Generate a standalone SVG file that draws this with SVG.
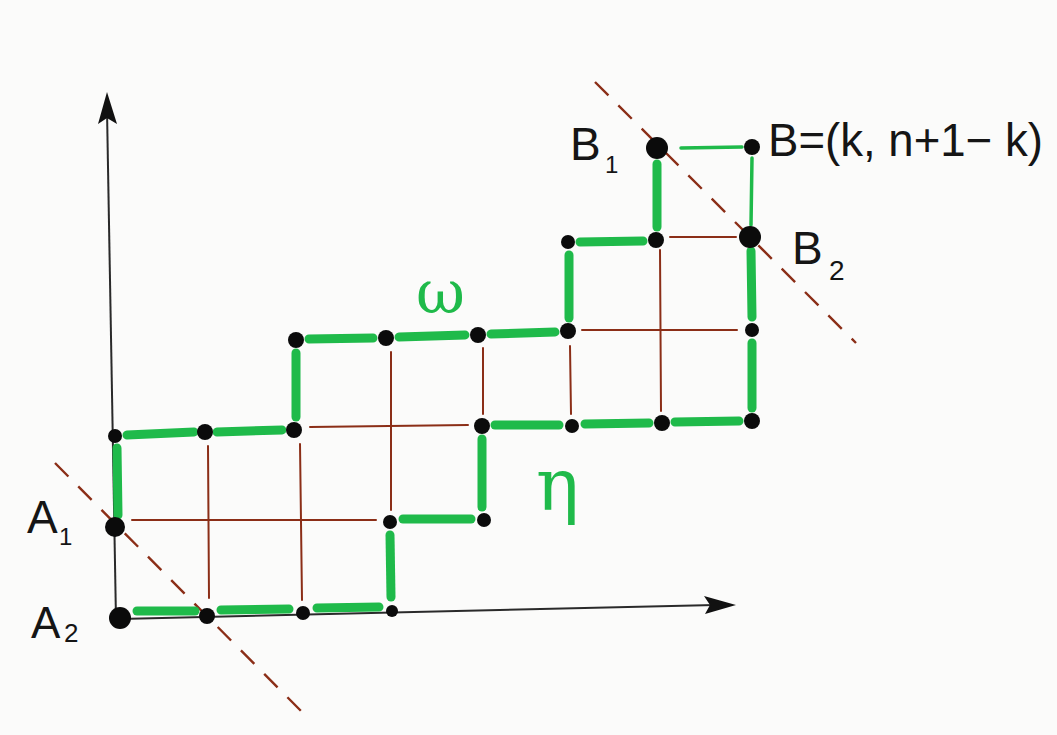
<svg xmlns="http://www.w3.org/2000/svg" width="1057" height="735" viewBox="0 0 1057 735">
<style>
.axis{stroke:#2a2a2a;stroke-width:2;fill:none}
.grid{stroke:#8b2e17;stroke-width:2;fill:none;stroke-linecap:round}
.diag{stroke:#8b2e17;stroke-width:2.4;fill:none;stroke-dasharray:19 14}
.path{stroke:#1fba4a;stroke-width:9;fill:none;stroke-linecap:round}
.thin{stroke:#1fba4a;stroke-width:3.5;fill:none;stroke-linecap:round}
.dot{fill:#0b0b0b}
.lbl{font-family:"Liberation Sans",Arial,sans-serif;fill:#151515}
.glbl{font-family:"DejaVu Serif","Liberation Serif",serif;fill:#1fba4a}
</style>
<rect width="1057" height="735" fill="#fbfbfa"/>
<g id="axes">
<line class="axis" x1="107" y1="110" x2="116" y2="620"/>
<polygon points="107,92 98,124 107,118 117,124" fill="#111"/>
<line class="axis" x1="120" y1="619" x2="715" y2="605"/>
<polygon points="736,605 704,596 710,605 705,614" fill="#111"/>
</g>
<g id="connectors">
<g id="grid-lines">
<line class="grid" x1="208" y1="446" x2="209" y2="598"/>
<line class="grid" x1="300" y1="444" x2="302" y2="600"/>
<line class="grid" x1="132" y1="520" x2="376" y2="520"/>
<line class="grid" x1="310" y1="427" x2="468" y2="425"/>
<line class="grid" x1="391" y1="352" x2="391" y2="510"/>
<line class="grid" x1="483" y1="348" x2="483" y2="414"/>
<line class="grid" x1="570" y1="346" x2="571" y2="414"/>
<line class="grid" x1="660" y1="250" x2="661" y2="411"/>
<line class="grid" x1="582" y1="330" x2="737" y2="330"/>
<line class="grid" x1="670" y1="237" x2="736" y2="237"/>
</g>
<g id="diagonals">
<line class="diag" x1="55" y1="463" x2="305" y2="715"/>
<line class="diag" x1="595" y1="82" x2="856" y2="343"/>
</g>
<g id="path-omega">
<line class="path" x1="118" y1="515" x2="117" y2="448"/>
<line class="path" x1="127" y1="435" x2="194" y2="432"/>
<line class="path" x1="217" y1="432" x2="282" y2="430"/>
<line class="path" x1="296" y1="417" x2="296" y2="353"/>
<line class="path" x1="309" y1="339" x2="373" y2="338"/>
<line class="path" x1="399" y1="337" x2="465" y2="335"/>
<line class="path" x1="491" y1="334" x2="555" y2="332"/>
<line class="path" x1="569" y1="318" x2="569" y2="255"/>
<line class="path" x1="580" y1="242" x2="643" y2="241"/>
<line class="path" x1="657" y1="227" x2="657" y2="164"/>
</g>
<g id="path-eta">
<line class="path" x1="137" y1="611" x2="195" y2="611"/>
<line class="path" x1="221" y1="610" x2="289" y2="609"/>
<line class="path" x1="317" y1="608" x2="379" y2="607"/>
<line class="path" x1="391" y1="597" x2="390" y2="535"/>
<line class="path" x1="403" y1="519" x2="471" y2="519"/>
<line class="path" x1="482" y1="507" x2="482" y2="439"/>
<line class="path" x1="495" y1="425" x2="559" y2="425"/>
<line class="path" x1="585" y1="424" x2="649" y2="423"/>
<line class="path" x1="675" y1="422" x2="739" y2="421"/>
<line class="path" x1="752" y1="408" x2="752" y2="343"/>
<line class="path" x1="752" y1="317" x2="751" y2="251"/>
</g>
<g id="path-top">
<line class="thin" x1="681" y1="148" x2="742" y2="147"/>
<line class="thin" x1="752" y1="158" x2="751" y2="225"/>
</g>
</g>
<g id="node-A2"><circle class="dot" cx="120" cy="618" r="11"/></g>
<g id="node-P1"><circle class="dot" cx="207" cy="616" r="8"/></g>
<g id="node-P2"><circle class="dot" cx="303" cy="613" r="7"/></g>
<g id="node-P3"><circle class="dot" cx="392" cy="611" r="6"/></g>
<g id="node-A1"><circle class="dot" cx="115" cy="527" r="10"/></g>
<g id="node-Q1"><circle class="dot" cx="390" cy="522" r="7"/></g>
<g id="node-Q2"><circle class="dot" cx="484" cy="520" r="7"/></g>
<g id="node-R0"><circle class="dot" cx="115" cy="436" r="7"/></g>
<g id="node-R1"><circle class="dot" cx="205" cy="432" r="8"/></g>
<g id="node-R2"><circle class="dot" cx="294" cy="430" r="8"/></g>
<g id="node-R3"><circle class="dot" cx="482" cy="426" r="8"/></g>
<g id="node-R4"><circle class="dot" cx="572" cy="426" r="7"/></g>
<g id="node-R5"><circle class="dot" cx="662" cy="423" r="8"/></g>
<g id="node-R6"><circle class="dot" cx="752" cy="421" r="8"/></g>
<g id="node-S1"><circle class="dot" cx="296" cy="340" r="8"/></g>
<g id="node-S2"><circle class="dot" cx="386" cy="338" r="8"/></g>
<g id="node-S3"><circle class="dot" cx="478" cy="335" r="8"/></g>
<g id="node-S4"><circle class="dot" cx="568" cy="331" r="8"/></g>
<g id="node-S5"><circle class="dot" cx="752" cy="330" r="7"/></g>
<g id="node-T1"><circle class="dot" cx="568" cy="242" r="7"/></g>
<g id="node-T2"><circle class="dot" cx="656" cy="240" r="8"/></g>
<g id="node-B2"><circle class="dot" cx="750" cy="237" r="11"/></g>
<g id="node-B1"><circle class="dot" cx="657" cy="148" r="11"/></g>
<g id="node-B"><circle class="dot" cx="752" cy="147" r="8"/></g>
<g id="labels">
<text class="lbl" x="27" y="533" font-size="46">A</text>
<text class="lbl" x="59" y="545" font-size="24">1</text>
<text class="lbl" x="31" y="638" font-size="44">A</text>
<text class="lbl" x="64" y="642" font-size="26">2</text>
<text class="lbl" x="570" y="160" font-size="46">B</text>
<text class="lbl" x="605" y="173" font-size="24">1</text>
<text class="lbl" x="768" y="156" font-size="46" textLength="275" lengthAdjust="spacingAndGlyphs">B=(k, n+1− k)</text>
<text class="lbl" x="792" y="264" font-size="46">B</text>
<text class="lbl" x="829" y="280" font-size="28">2</text>
<text class="glbl" x="416" y="313" font-size="60">ω</text>
<text class="glbl" x="536" y="510" font-size="72">η</text>
</g>
</svg>
